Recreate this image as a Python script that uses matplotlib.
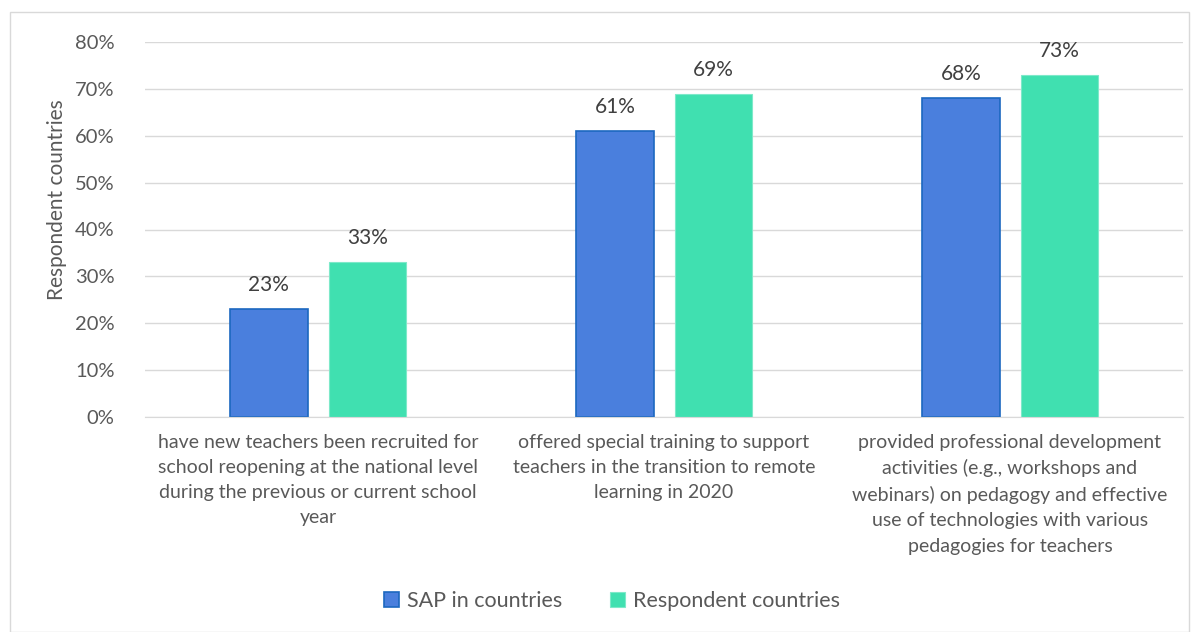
import matplotlib.pyplot as plt
import numpy as np
from matplotlib.patches import Rectangle

plt.rcParams['font.family'] = ['Lato', 'DejaVu Sans']

categories = [
    "have new teachers been recruited for\nschool reopening at the national level\nduring the previous or current school\nyear",
    "offered special training to support\nteachers in the transition to remote\nlearning in 2020",
    "provided professional development\nactivities (e.g., workshops and\nwebinars) on pedagogy and effective\nuse of technologies with various\npedagogies for teachers",
]
sap = [23, 61, 68]
respondent = [33, 69, 73]
series_names = ["SAP in countries", "Respondent countries"]

txt = '#595959'
fig = plt.figure(figsize=(11.99, 6.32), dpi=100)
fig.patches.append(Rectangle((10 / 1199, 0), 1 - 20 / 1199, 1 - 12 / 632, transform=fig.transFigure,
                             fill=False, edgecolor='#d9d9d9', lw=1))
ax = fig.add_axes([145 / 1199, 1 - 417 / 632, (1183 - 145) / 1199, (417 - 42) / 632])

x = np.arange(len(categories))
w = 0.225
b1 = ax.bar(x - 0.142, sap, w, color='#4a7fdd', edgecolor='#1c68c0', lw=1.2, label=series_names[0])
b2 = ax.bar(x + 0.143, respondent, w, color='#40e0b0', edgecolor='#7ee9c9', lw=0.8, label=series_names[1])

for bars, vals in [(b1, sap), (b2, respondent)]:
    for r, v in zip(bars, vals):
        ax.text(r.get_x() + r.get_width() / 2, v + 3.0, f"{v}%", ha='center', va='bottom',
                fontsize=15, color='#404040')

ax.set_xlim(-0.5, 2.5)
ax.set_ylim(0, 80)
ax.set_yticks(range(0, 81, 10))
ax.set_yticklabels([f"{t}%" for t in range(0, 81, 10)])
ax.yaxis.grid(True, color='#d9d9d9', lw=1)
ax.set_axisbelow(True)
for s in ['top', 'right', 'left']:
    ax.spines[s].set_visible(False)
ax.spines['bottom'].set_color('#d9d9d9')
ax.tick_params(axis='y', length=0, labelsize=14.5, labelcolor=txt, pad=22)
ax.tick_params(axis='x', length=0, labelsize=14, labelcolor=txt, pad=12)
ax.set_xticks(x)
ax.set_xticklabels(categories, linespacing=1.58)
ax.set_ylabel("Respondent countries", fontsize=15, color=txt)
ax.yaxis.set_label_coords(-0.075, 0.58)

ax.legend(loc='center', bbox_to_anchor=(612 / 1199, 1 - 601 / 632), bbox_transform=fig.transFigure,
          ncol=2, frameon=False, fontsize=15.5, labelcolor=txt, handlelength=0.7, handleheight=0.7,
          columnspacing=2.2, handletextpad=0.4)

fig.savefig('out.png', dpi=100)
